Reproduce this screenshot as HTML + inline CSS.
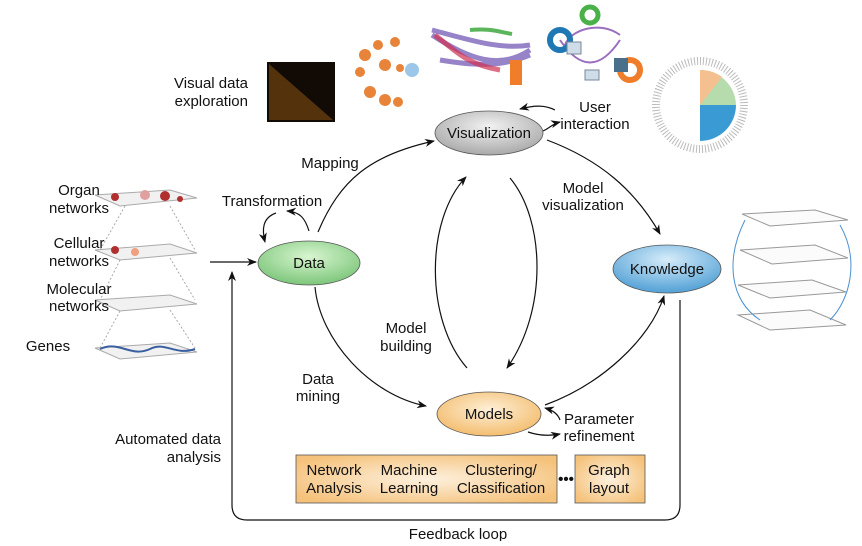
<!DOCTYPE html>
<html><head><meta charset="utf-8"><style>
body{margin:0;background:#fff}
svg text{font-family:"Liberation Sans",Arial,sans-serif;font-size:15px;fill:#111}
</style></head><body>
<svg width="862" height="541" viewBox="0 0 862 541" xmlns="http://www.w3.org/2000/svg">
<defs>
<marker id="a" markerWidth="10" markerHeight="8" refX="9" refY="4" orient="auto" markerUnits="userSpaceOnUse"><path d="M0,0 L10,4 L0,8 L3,4z" fill="#111"/></marker>
<radialGradient id="g" cx="50%" cy="35%" r="65%"><stop offset="0" stop-color="#d8f5d0"/><stop offset="1" stop-color="#7cc67a"/></radialGradient>
<radialGradient id="gr" cx="50%" cy="35%" r="65%"><stop offset="0" stop-color="#f2f2f2"/><stop offset="1" stop-color="#a9a9a9"/></radialGradient>
<radialGradient id="bl" cx="50%" cy="30%" r="65%"><stop offset="0" stop-color="#d6ecfa"/><stop offset="1" stop-color="#5aa5d8"/></radialGradient>
<radialGradient id="or" cx="50%" cy="40%" r="65%"><stop offset="0" stop-color="#fdf0d8"/><stop offset="1" stop-color="#f3b966"/></radialGradient>
<radialGradient id="bx" cx="50%" cy="50%" r="60%"><stop offset="0" stop-color="#fdf1df"/><stop offset="1" stop-color="#f5c27b"/></radialGradient>
</defs>

<rect x="267" y="62" width="68" height="60" fill="#120a05"/>
<polygon points="269,64 269,120 333,120" fill="#8a5512" opacity="0.55"/>
<g fill="#e8843a">
<circle cx="365" cy="55" r="6"/><circle cx="378" cy="45" r="5"/><circle cx="395" cy="42" r="5"/><circle cx="360" cy="72" r="5"/><circle cx="385" cy="65" r="6"/><circle cx="370" cy="92" r="6"/><circle cx="385" cy="100" r="6"/><circle cx="398" cy="102" r="5"/><circle cx="400" cy="68" r="4"/>
</g>
<circle cx="412" cy="70" r="7" fill="#9cc7e8"/>
<path d="M432,30 C470,40 500,50 530,45 M432,35 C470,60 500,70 530,50 M440,60 C470,65 500,68 530,55" stroke="#6a4fb0" stroke-width="5" fill="none" opacity="0.7"/>
<path d="M435,35 C460,55 470,65 500,70" stroke="#d03050" stroke-width="5" fill="none" opacity="0.7"/>
<path d="M470,30 C490,28 500,32 512,34" stroke="#5bb55b" stroke-width="4" fill="none"/>
<rect x="510" y="60" width="12" height="25" fill="#ef7d2a"/>
<path d="M560,40 C580,70 600,70 620,40 M565,45 C570,30 600,20 620,35" stroke="#9a6fc0" stroke-width="2" fill="none"/>
<circle cx="560" cy="40" r="10" fill="none" stroke="#1f77b4" stroke-width="6"/>
<circle cx="630" cy="70" r="10" fill="none" stroke="#ef7d2a" stroke-width="6"/>
<circle cx="590" cy="15" r="8" fill="none" stroke="#4ab04a" stroke-width="5"/>
<rect x="567" y="42" width="14" height="12" fill="#cfdde9" stroke="#789"/>
<rect x="585" y="70" width="14" height="10" fill="#cfdde9" stroke="#789"/>
<rect x="614" y="58" width="14" height="14" fill="#4a6f8a"/>
<circle cx="700" cy="105" r="44" fill="none" stroke="#bbb" stroke-width="8" stroke-dasharray="1 2"/>
<path d="M700,70 A36,36 0 0 1 736,105 L700,105z" fill="#b6dcae"/>
<path d="M736,105 A36,36 0 0 1 700,141 L700,105z" fill="#3a9ad4"/>
<path d="M700,70 A36,36 0 0 1 722,77 L700,105z" fill="#f5c08f"/>
<g fill="#fbfbfb" stroke="#999">
<polygon points="742,214 815,210 848,220 770,226"/>
<polygon points="740,250 815,245 848,258 772,264"/>
<polygon points="738,285 812,280 846,292 770,298"/>
<polygon points="738,315 810,310 846,325 770,330"/>
</g>
<path d="M745,220 C725,260 730,300 760,320 M840,225 C860,260 850,300 830,320" stroke="#4a90d0" fill="none"/>
<g fill="#f1f1f1" stroke="#aaa">
<polygon points="95,195 170,190 197,198 120,206"/>
<polygon points="95,250 170,244 197,253 120,260"/>
<polygon points="95,300 170,295 197,304 120,311"/>
<polygon points="95,348 170,343 197,352 120,359"/>
</g>
<g fill="#b03030"><circle cx="115" cy="197" r="4"/><circle cx="145" cy="195" r="5" fill="#e0a0a0"/><circle cx="165" cy="196" r="5"/><circle cx="180" cy="199" r="3"/><circle cx="115" cy="250" r="4"/><circle cx="135" cy="252" r="4" fill="#f0a080"/></g>
<path d="M100,349 C120,340 130,358 150,349 C165,341 175,356 195,349" stroke="#3a5fa0" stroke-width="2" fill="none"/>
<path d="M125,206 L100,250 M170,206 L195,250 M120,260 L100,300 M170,258 L195,300 M120,311 L100,348 M170,310 L195,348" stroke="#aaa" stroke-dasharray="2 2"/>

<text x="248" y="88" text-anchor="end">Visual data</text>
<text x="248" y="106" text-anchor="end">exploration</text>
<text x="79" y="195" text-anchor="middle">Organ</text>
<text x="79" y="213" text-anchor="middle">networks</text>
<text x="79" y="248" text-anchor="middle">Cellular</text>
<text x="79" y="266" text-anchor="middle">networks</text>
<text x="79" y="294" text-anchor="middle">Molecular</text>
<text x="79" y="311" text-anchor="middle">networks</text>
<text x="48" y="351" text-anchor="middle">Genes</text>
<text x="330" y="168" text-anchor="middle">Mapping</text>
<text x="272" y="206" text-anchor="middle">Transformation</text>
<text x="595" y="112" text-anchor="middle">User</text>
<text x="595" y="129" text-anchor="middle">interaction</text>
<text x="583" y="193" text-anchor="middle">Model</text>
<text x="583" y="210" text-anchor="middle">visualization</text>
<text x="406" y="333" text-anchor="middle">Model</text>
<text x="406" y="351" text-anchor="middle">building</text>
<text x="318" y="384" text-anchor="middle">Data</text>
<text x="318" y="401" text-anchor="middle">mining</text>
<text x="599" y="424" text-anchor="middle">Parameter</text>
<text x="599" y="441" text-anchor="middle">refinement</text>
<text x="221" y="444" text-anchor="end">Automated data</text>
<text x="221" y="462" text-anchor="end">analysis</text>
<text x="458" y="539" text-anchor="middle">Feedback loop</text>

<g stroke="#111" stroke-width="1.2" fill="none" marker-end="url(#a)">
<path d="M210,262 L256,262"/>
<path d="M318,232 C340,180 370,155 434,141"/>
<path d="M309,231 C305,218 300,212 287,211"/>
<path d="M276,213 C262,218 262,230 265,242"/>
<path d="M543,131 C550,128 552,124 560,122"/>
<path d="M555,110 C545,105 535,105 520,109"/>
<path d="M547,140 C600,160 635,190 660,234"/>
<path d="M510,178 C545,220 548,310 507,368"/>
<path d="M467,368 C425,320 425,220 466,177"/>
<path d="M315,287 C320,340 370,395 426,406"/>
<path d="M545,405 C600,385 650,340 664,296"/>
<path d="M528,432 C540,436 550,436 560,434"/>
<path d="M560,420 C558,414 552,410 545,408"/>
<path d="M680,300 L680,505 Q680,520 665,520 L247,520 Q232,520 232,505 L232,272"/>
</g>

<g stroke="#555" stroke-width="0.8">
<ellipse cx="309" cy="263" rx="51" ry="22" fill="url(#g)"/>
<ellipse cx="489" cy="133" rx="54" ry="22" fill="url(#gr)"/>
<ellipse cx="667" cy="269" rx="54" ry="24" fill="url(#bl)"/>
<ellipse cx="489" cy="414" rx="52" ry="22" fill="url(#or)"/>
<rect x="296" y="455" width="261" height="48" fill="url(#bx)"/>
<rect x="575" y="455" width="70" height="48" fill="url(#bx)"/>
</g>
<text x="309" y="268" text-anchor="middle">Data</text>
<text x="489" y="138" text-anchor="middle">Visualization</text>
<text x="667" y="274" text-anchor="middle">Knowledge</text>
<text x="489" y="419" text-anchor="middle">Models</text>
<text x="334" y="475" text-anchor="middle">Network</text>
<text x="334" y="493" text-anchor="middle">Analysis</text>
<text x="409" y="475" text-anchor="middle">Machine</text>
<text x="409" y="493" text-anchor="middle">Learning</text>
<text x="501" y="475" text-anchor="middle">Clustering/</text>
<text x="501" y="493" text-anchor="middle">Classification</text>
<text x="609" y="475" text-anchor="middle">Graph</text>
<text x="609" y="493" text-anchor="middle">layout</text>
<text x="566" y="484" text-anchor="middle" style="font-weight:bold">•••</text>
</svg>
</body></html>
